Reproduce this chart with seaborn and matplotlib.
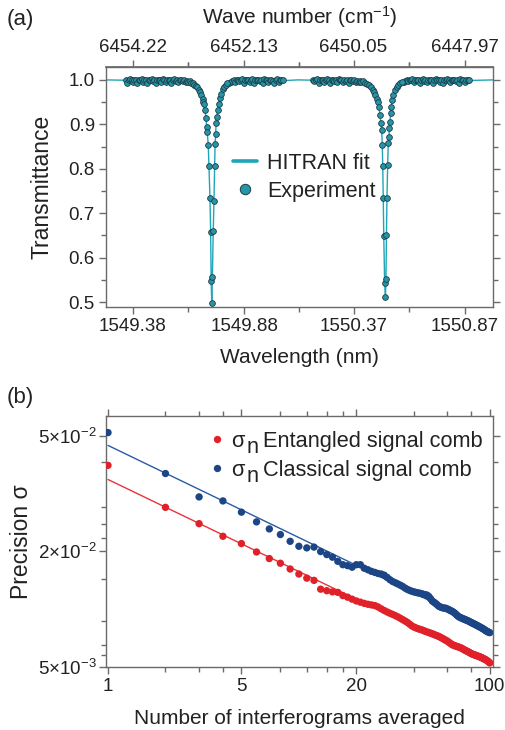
import numpy as np
import pandas as pd
import matplotlib
matplotlib.use("Agg")
import matplotlib.pyplot as plt
import seaborn as sns
from matplotlib.lines import Line2D
from matplotlib.ticker import FixedLocator, NullFormatter

# ---------------- Panel (a) data ----------------
wl_ticks = [1549.38, 1549.88, 1550.37, 1550.87]
wl_tick_labels = ["1549.38", "1549.88", "1550.37", "1550.87"]
wn_tick_labels = ["6454.22", "6452.13", "6450.05", "6447.97"]
wl_minor = [1549.627, 1550.125, 1550.619]
T_ticks = [0.5, 0.6, 0.7, 0.8, 0.9, 1.0]
T_minor = [0.55, 0.65, 0.75, 0.85, 0.95]

# baseline segments of the measured spectrum (start, stop wavelength, transmittance)
base1_range = (1549.3486, 1549.6290)
base1_T = [1.000, 0.994, 1.000, 1.001, 0.999, 0.995, 1.000, 1.000, 0.993, 1.000,
           0.999, 1.001, 0.996, 1.000, 1.000, 0.994, 0.999, 1.000, 1.001, 0.997,
           1.000, 0.993, 1.000, 0.999, 1.000, 0.996, 1.001, 1.000, 0.995, 1.000,
           0.999, 1.000, 0.994, 1.000, 1.001, 0.998, 1.000, 0.996, 0.999, 1.000,
           0.997, 0.999, 0.996, 0.998, 0.995]
base2_range = (1549.8122, 1550.0532)
base2_T = [0.994, 0.996, 0.998, 1.000, 0.995, 0.999, 1.000, 0.997, 1.000, 1.001,
           0.993, 1.000, 0.999, 1.000, 0.996, 1.000, 1.001, 0.994, 1.000, 0.999,
           1.000, 0.997, 1.000, 0.993, 1.001, 1.000, 0.999, 0.995, 1.000, 1.000,
           0.998, 0.993, 1.000, 1.001, 0.996, 1.000, 0.999, 1.000]
base3_range = (1550.1879, 1550.4056)
base3_T = [1.000, 0.997, 1.000, 1.001, 0.994, 1.000, 0.999, 1.000, 0.996, 1.000,
           1.001, 0.999, 0.993, 1.000, 1.000, 0.998, 1.000, 0.995, 1.001, 1.000,
           0.999, 0.996, 1.000, 0.998, 1.000, 0.994, 0.999, 1.000, 0.997, 0.999,
           0.996, 0.998, 0.995, 0.997, 0.996]
base4_range = (1550.5955, 1550.8881)
base4_T = [0.996, 0.997, 0.999, 0.998, 1.000, 0.999, 1.001, 0.995, 1.000, 1.000,
           0.999, 0.993, 1.000, 1.001, 0.998, 1.000, 0.996, 1.000, 0.999, 1.000,
           0.994, 1.000, 1.001, 0.999, 1.000, 0.996, 1.000, 0.993, 1.000, 0.999,
           1.001, 1.000, 0.995, 1.000, 0.999, 1.000, 0.997, 1.000, 0.994, 1.001,
           1.000, 0.999, 0.996, 1.000, 1.000, 0.999]

# absorption line 1
dip1_wl = [1549.6358, 1549.6426, 1549.6493, 1549.6560, 1549.6628, 1549.6695,
           1549.6762, 1549.6821, 1549.6874, 1549.6928, 1549.6964, 1549.6987,
           1549.7032, 1549.7076, 1549.7108, 1549.7135, 1549.7180, 1549.7211,
           1549.7256, 1549.7287, 1549.7310, 1549.7337,
           1549.7364, 1549.7404, 1549.7436, 1549.7467, 1549.7485, 1549.7512,
           1549.7530, 1549.7557, 1549.7602, 1549.7660, 1549.7705, 1549.7750,
           1549.7826, 1549.7898, 1549.7974, 1549.8041]
dip1_T = [0.997, 0.994, 0.992, 0.989, 0.986, 0.983, 0.978, 0.972, 0.966, 0.958,
          0.951, 0.945, 0.932, 0.914, 0.895, 0.882, 0.853, 0.806, 0.735, 0.658,
          0.547, 0.499,
          0.556, 0.661, 0.727, 0.807, 0.855, 0.878, 0.902, 0.916, 0.932, 0.946,
          0.960, 0.969, 0.979, 0.985, 0.989, 0.992]
# absorption line 2
dip2_wl = [1550.4123, 1550.4213, 1550.4303, 1550.4392, 1550.4482, 1550.4559,
           1550.4617, 1550.4675, 1550.4738, 1550.4783, 1550.4841, 1550.4886,
           1550.4931, 1550.4963, 1550.4990, 1550.5012, 1550.5034, 1550.5057,
           1550.5097, 1550.5133,
           1550.5155, 1550.5178, 1550.5200, 1550.5232, 1550.5259, 1550.5290,
           1550.5308, 1550.5335, 1550.5366, 1550.5393, 1550.5438, 1550.5483,
           1550.5559, 1550.5636, 1550.5716, 1550.5797, 1550.5874]
dip2_T = [0.997, 0.994, 0.991, 0.988, 0.983, 0.978, 0.973, 0.967, 0.958, 0.951,
          0.940, 0.921, 0.902, 0.887, 0.854, 0.806, 0.734, 0.649, 0.542, 0.512,
          0.553, 0.651, 0.734, 0.809, 0.859, 0.872, 0.891, 0.906, 0.925, 0.940,
          0.955, 0.966, 0.977, 0.985, 0.989, 0.992, 0.995]
fit_edges_wl = [1549.25, 1550.12, 1551.00]
fit_edges_T = [1.0, 1.0, 1.0]

# ---------------- Panel (b) data ----------------
N_avg = list(range(1, 101))
sigma_entangled = [
    0.0559, 0.0338, 0.0278, 0.0239, 0.0219, 0.0198, 0.0183, 0.0173, 0.01615, 0.0152,
    0.01447, 0.01409, 0.01268, 0.01245, 0.01228, 0.0122, 0.01174, 0.01152, 0.01125, 0.01101,
    0.01085, 0.01070, 0.01058, 0.01050, 0.01042, 0.01025, 0.01002, 0.00982, 0.00965, 0.00950,
    0.00937, 0.00924, 0.00910, 0.00895, 0.00880, 0.00866, 0.00852, 0.00835, 0.00818, 0.00806,
    0.00798, 0.00790, 0.00784, 0.00779, 0.00772, 0.00765, 0.00759, 0.00754, 0.00748, 0.00743,
    0.00737, 0.00731, 0.00726, 0.00720, 0.00714, 0.00707, 0.00700, 0.00693, 0.00686, 0.00680,
    0.00672, 0.00664, 0.00656, 0.00650, 0.00646, 0.00643, 0.00639, 0.00636, 0.00633, 0.00630,
    0.00626, 0.00621, 0.00616, 0.00611, 0.00607, 0.00603, 0.00599, 0.00595, 0.00590, 0.00586,
    0.00583, 0.00580, 0.00577, 0.00575, 0.00573, 0.00570, 0.00568, 0.00565, 0.00563, 0.00560,
    0.00557, 0.00554, 0.00551, 0.00548, 0.00545, 0.00542, 0.00538, 0.00534, 0.00529, 0.00524]
sigma_classical = [
    0.0828, 0.0507, 0.0383, 0.0365, 0.0319, 0.0284, 0.0261, 0.0244, 0.0225, 0.0212,
    0.0208, 0.0210, 0.0199, 0.0192, 0.0186, 0.0177, 0.0170, 0.0168, 0.0165, 0.0170,
    0.0170, 0.0163, 0.0160, 0.0157, 0.0155, 0.0153, 0.0152, 0.0150, 0.0146, 0.0142,
    0.0139, 0.0137, 0.0135, 0.0133, 0.01310, 0.01285, 0.01265, 0.01250, 0.01237, 0.01228,
    0.01220, 0.01213, 0.01208, 0.01200, 0.01192, 0.01186, 0.01180, 0.01160, 0.01130, 0.01100,
    0.01085, 0.01070, 0.01052, 0.01035, 0.01025, 0.01018, 0.01013, 0.01010, 0.01008, 0.01000,
    0.00992, 0.00984, 0.00976, 0.00968, 0.00958, 0.00946, 0.00932, 0.00920, 0.00910, 0.00903,
    0.00898, 0.00892, 0.00887, 0.00882, 0.00877, 0.00872, 0.00867, 0.00862, 0.00856, 0.00850,
    0.00845, 0.00840, 0.00835, 0.00830, 0.00825, 0.00820, 0.00815, 0.00810, 0.00805, 0.00800,
    0.00795, 0.00790, 0.00785, 0.00779, 0.00773, 0.00768, 0.00764, 0.00760, 0.00756, 0.00753]
fit_N = [1, 100]
fit_entangled = [0.0472, 0.0052]
fit_classical = [0.0710, 0.0078]
sig_symbol = "σ"
sub_symbol = "n"
lab_ent = "Entangled signal comb"
lab_cls = "Classical signal comb"
N_ticks = [1, 5, 20, 100]
N_minor = [2, 3, 4, 8, 11, 14, 17, 40, 60, 80]
sig_ticks = [0.005, 0.02, 0.0797]
sig_tick_labels = ["5×10$^{-3}$", "2×10$^{-2}$", "5×10$^{-2}$"]
sig_minor = [0.00575, 0.0065, 0.0087, 0.0144, 0.0235, 0.0277, 0.0338, 0.0581]

# ---------------- style ----------------
sns.set_theme(style="ticks")
plt.rcParams["font.family"] = ["Liberation Sans", "DejaVu Sans"]
plt.rcParams["mathtext.fontset"] = "custom"
plt.rcParams["mathtext.rm"] = "Liberation Sans"
plt.rcParams["mathtext.it"] = "Liberation Sans:italic"
plt.rcParams["mathtext.bf"] = "Liberation Sans:bold"

spine_c = "#6a6a6a"
text_c = "#222222"
fit_c = "#1fa5b8"
pt_c = "#2596a8"
pt_edge = "#1d3b45"
red_c = "#e02129"
blue_c = "#1b4585"
red_line = "#e8343a"
blue_line = "#2b5aa5"
tick_fs = 13.5
xlab_fs = 15
ylab_fs = 16.5
leg_fs = 15.7

FW, FH = 506, 730
fig = plt.figure(figsize=(FW / 100, FH / 100), dpi=100)
axA = fig.add_axes([106 / FW, 1 - 307 / FH, 387 / FW, 240 / FH])
axB = fig.add_axes([106 / FW, 1 - 667 / FH, 387 / FW, 251 / FH])

# ---------------- panel (a) ----------------
base_wl, base_T = [], []
for rng, vals in [(base1_range, base1_T), (base2_range, base2_T),
                  (base3_range, base3_T), (base4_range, base4_T)]:
    base_wl += list(np.linspace(rng[0], rng[1], len(vals)))
    base_T += vals
exp_df = pd.DataFrame({"wl": base_wl + dip1_wl + dip2_wl,
                       "T": base_T + dip1_T + dip2_T})
fit_df = pd.DataFrame({
    "wl": [fit_edges_wl[0]] + dip1_wl + [fit_edges_wl[1]] + dip2_wl + [fit_edges_wl[2]],
    "T": [fit_edges_T[0]] + dip1_T + [fit_edges_T[1]] + dip2_T + [fit_edges_T[2]]})

sns.lineplot(data=fit_df, x="wl", y="T", ax=axA, color=fit_c, lw=1.0,
             sort=False, estimator=None, zorder=2)
sns.scatterplot(data=exp_df, x="wl", y="T", ax=axA, s=17, color=pt_c,
                edgecolor=pt_edge, linewidth=0.6, zorder=3)

axA.set_xlim(1549.259, 1550.996)
axA.set_ylim(0.489, 1.029)
axA.xaxis.set_major_locator(FixedLocator(wl_ticks))
axA.set_xticklabels(wl_tick_labels)
axA.xaxis.set_minor_locator(FixedLocator(wl_minor))
axA.yaxis.set_major_locator(FixedLocator(T_ticks))
axA.set_yticklabels([f"{v:.1f}" for v in T_ticks])
axA.yaxis.set_minor_locator(FixedLocator(T_minor))
axA.set_xlabel("Wavelength (nm)", fontsize=xlab_fs, color=text_c, labelpad=9)
axA.set_ylabel("Transmittance", fontsize=ylab_fs, color=text_c, labelpad=11)

sec = axA.secondary_xaxis("top")
sec.xaxis.set_major_locator(FixedLocator(wl_ticks))
sec.set_xticklabels(wn_tick_labels)
sec.xaxis.set_minor_locator(FixedLocator(wl_minor))
sec.set_xlabel("Wave number (cm$^{-1}$)", fontsize=xlab_fs, color=text_c, labelpad=11)

for ax in (axA, axB):
    for sp in ax.spines.values():
        sp.set_visible(True)
        sp.set_color(spine_c)
        sp.set_linewidth(1.0)
    ax.tick_params(which="both", direction="out", color=spine_c, width=1.0,
                   labelsize=tick_fs, labelcolor=text_c, right=True, top=True,
                   labeltop=False, labelright=False)
    ax.tick_params(which="major", length=5, pad=3)
    ax.tick_params(which="minor", length=3.5)
for sp in sec.spines.values():
    sp.set_color(spine_c)
sec.tick_params(which="both", direction="out", color=spine_c, width=1.0,
                labelsize=tick_fs, labelcolor=text_c)
sec.tick_params(which="major", length=5, pad=3)
sec.tick_params(which="minor", length=3.5)
axA.tick_params(axis="x", top=False)

handlesA = [Line2D([], [], color=fit_c, lw=2.6),
            Line2D([], [], marker="o", ls="", mfc=pt_c, mec=pt_edge, mew=0.7, ms=7.5)]
legA = axA.legend(handlesA, ["HITRAN fit", "Experiment"], loc="center left",
                  bbox_to_anchor=(0.328, 0.54), frameon=False, fontsize=15.5,
                  handlelength=1.1, handletextpad=0.5, labelspacing=0.33,
                  borderpad=0, borderaxespad=0)
for t in legA.get_texts():
    t.set_color(text_c)

# ---------------- panel (b) ----------------
axB.set_xscale("log")
axB.set_yscale("log")
dfB = pd.DataFrame({
    "N": N_avg + N_avg,
    "sigma": sigma_entangled + sigma_classical,
    "series": [lab_ent] * len(N_avg) + [lab_cls] * len(N_avg)})
sns.lineplot(x=fit_N, y=fit_entangled, ax=axB, color=red_line, lw=1.0,
             estimator=None, legend=False, zorder=2)
sns.lineplot(x=fit_N, y=fit_classical, ax=axB, color=blue_line, lw=1.0,
             estimator=None, legend=False, zorder=2)
sns.scatterplot(data=dfB, x="N", y="sigma", hue="series", hue_order=[lab_ent, lab_cls],
                palette=[red_c, blue_c], s=28, linewidth=0, ax=axB, zorder=3)

axB.set_xlim(0.976, 104)
axB.set_ylim(0.00499, 0.101)
axB.xaxis.set_major_locator(FixedLocator(N_ticks))
axB.xaxis.set_minor_locator(FixedLocator(N_minor))
axB.xaxis.set_minor_formatter(NullFormatter())
axB.set_xticklabels([str(v) for v in N_ticks])
axB.yaxis.set_major_locator(FixedLocator(sig_ticks))
axB.yaxis.set_minor_locator(FixedLocator(sig_minor))
axB.yaxis.set_minor_formatter(NullFormatter())
axB.set_yticklabels(sig_tick_labels)
axB.tick_params(axis="y", which="major", pad=1.5)
axB.set_xlabel("Number of interferograms averaged", fontsize=xlab_fs, color=text_c, labelpad=10)
axB.set_ylabel("Precision σ", fontsize=ylab_fs, color=text_c, labelpad=4)

legB = axB.legend(loc="center left", bbox_to_anchor=(0.2705, 0.841), frameon=False,
                  fontsize=leg_fs, handlelength=0.6, handletextpad=1.81,
                  labelspacing=0.38, borderpad=0, borderaxespad=0, markerscale=1.0)
for t in legB.get_texts():
    t.set_color(text_c)

fig.text(7 / FW, 1 - 20 / FH, "(a)", fontsize=16, color=text_c, va="center", ha="left")
fig.text(7 / FW, 1 - 398 / FH, "(b)", fontsize=16, color=text_c, va="center", ha="left")

# "σ" with a full-size lowered "n" placed before each legend label
fig.canvas.draw()
renderer = fig.canvas.get_renderer()
for t in legB.get_texts():
    bb = t.get_window_extent(renderer)
    prop = t.get_fontproperties()
    w_sig, _, _ = renderer.get_text_width_height_descent(sig_symbol, prop, ismath=False)
    w_n, _, _ = renderer.get_text_width_height_descent(sub_symbol, prop, ismath=False)
    _, _, d_lp = renderer.get_text_width_height_descent("lp", prop, ismath=False)
    _, _, d_txt = renderer.get_text_width_height_descent(t.get_text(), prop, ismath=False)
    base = bb.y0 + max(d_lp, d_txt)
    x_n = bb.x0 - 5 - w_n
    x_sig = x_n - 1.5 - w_sig
    fig.text(x_sig / FW, base / FH, sig_symbol, fontproperties=prop,
             color=text_c, va="baseline", ha="left")
    fig.text(x_n / FW, (base - 6) / FH, sub_symbol, fontproperties=prop,
             color=text_c, va="baseline", ha="left")

fig.savefig("out.png", dpi=100)
